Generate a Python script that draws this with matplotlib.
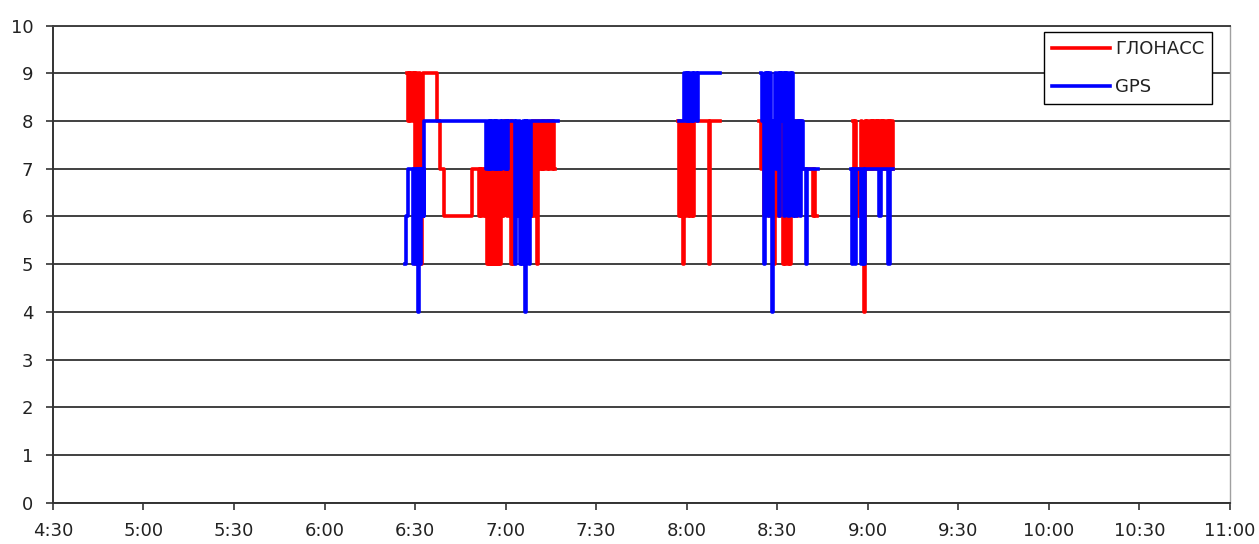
import numpy as np
import matplotlib
matplotlib.use("Agg")
import matplotlib.pyplot as plt

nan = np.nan

# time in minutes after midnight, value = number of satellites
glonass_t = [387.2, 387.6, 388.0, 388.4, 388.8, 389.2, 389.6, 389.9, 390.2, 390.5, 390.8, 391.1,
             391.4, 391.7, 392.0, 392.3, 392.7, 397.4, 398.2, 399.6, 408.9, 411.1, 411.5, 411.9,
             412.3, 412.7, 413.1, 413.5, 413.8, 414.1, 414.4, 414.7, 415.0, 415.3, 415.6, 415.9,
             416.2, 416.5, 416.8, 417.1, 417.4, 417.7, 418.0, 418.4, 418.8, 419.2, 419.4, 419.8,
             420.2, 420.6, 421.0, 421.5, 421.8, 422.1, 422.4, 422.8, 423.2, 423.8, 424.6, 425.4,
             426.2, 427.0, 427.8, 428.8, 429.2, 429.6, 430.0, 430.4, 430.8, 431.2, 431.6, 432.0,
             432.4, 432.8, 433.2, 433.6, 434.0, 434.4, 434.8, 435.2, 435.6, 436.0, 436.2, 436.2,
             477.1, 477.4, 477.7, 478.0, 478.3, 478.6, 478.9, 479.2, 479.5, 479.7, 480.4, 480.8,
             481.2, 481.6, 482.0, 482.4, 487.5, 487.7, 490.9, 490.9,
             503.9, 504.7, 505.2, 505.7, 506.2, 506.7, 507.2, 507.7, 508.2, 508.7, 509.0, 509.4,
             509.9, 510.4, 510.9, 511.4, 511.8, 512.2, 512.6, 513.0, 513.4, 513.8, 514.2, 514.6,
             515.0, 515.5, 516.0, 516.5, 517.0, 517.5, 518.0, 518.3, 521.7, 522.2, 522.6, 523.0,
             523.0,
             535.0, 535.4, 535.8, 536.2, 536.6, 537.0, 537.4, 537.8, 538.2, 538.7, 539.0, 539.4,
             539.8, 540.2, 540.6, 541.0, 541.4, 541.8, 542.2, 542.6, 543.0, 543.4, 543.8, 544.2,
             544.6, 545.0, 545.4, 545.8, 546.2, 546.6, 547.0, 547.4, 547.8, 548.2, 548.4]
glonass_v = [9, 8, 9, 8, 9, 8, 9, 5, 9, 6, 8, 5,
             9, 7, 5, 8, 9, 8, 7, 6, 7, 6, 7, 6,
             7, 6, 7, 6, 5, 7, 5, 6, 5, 7, 5, 6,
             5, 7, 5, 6, 5, 7, 5, 6, 7, 6, 8, 7,
             8, 6, 7, 8, 5, 8, 5, 7, 6, 7, 6, 7,
             6, 7, 6, 8, 6, 8, 7, 5, 8, 7, 8, 7,
             8, 7, 8, 7, 8, 7, 8, 7, 8, 7, 7, nan,
             8, 6, 8, 6, 7, 6, 5, 8, 6, 8, 6, 8,
             6, 8, 6, 8, 5, 8, 8, nan,
             8, 7, 8, 6, 8, 7, 6, 8, 7, 8, 5, 7,
             8, 6, 7, 8, 5, 6, 5, 7, 5, 6, 5, 7,
             8, 7, 8, 6, 8, 7, 8, 7, 6, 7, 6, 6,
             nan,
             8, 7, 8, 7, 6, 7, 6, 8, 7, 4, 8, 7,
             8, 7, 8, 7, 8, 7, 8, 7, 8, 7, 8, 7,
             8, 7, 8, 7, 8, 7, 8, 7, 8, 7, 7]

gps_t = [386.6, 387.0, 387.7, 389.4, 389.8, 390.2, 390.6, 390.9, 391.2, 391.6, 392.0, 392.3,
         392.6, 392.9, 393.1, 413.6, 414.0, 414.4, 414.8, 415.2, 415.6, 416.0, 416.4, 416.8,
         417.2, 417.6, 418.0, 418.4, 418.8, 419.9, 420.3, 420.6, 420.9, 423.1, 423.5, 423.9,
         424.3, 424.7, 425.1, 425.5, 425.9, 426.3, 426.7, 426.9, 427.2, 427.6, 428.0, 428.4,
         437.4, 437.4,
         477.6, 479.2, 479.6, 480.0, 480.4, 480.8, 481.2, 481.6, 482.0, 482.5, 483.5, 483.8,
         490.9, 490.9,
         504.7, 505.0, 505.5, 505.8, 506.2, 506.6, 507.0, 507.4, 507.8, 508.2, 508.6, 509.3,
         509.7, 510.1, 510.5, 510.9, 511.3, 511.7, 512.1, 512.5, 512.9, 513.3, 513.7, 514.1,
         514.5, 514.9, 515.2, 515.6, 516.0, 516.4, 516.8, 517.2, 517.6, 518.0, 518.5, 519.4,
         519.8, 523.5, 523.5,
         534.5, 534.8, 535.2, 535.6, 536.0, 537.9, 538.3, 538.7, 539.1, 543.8, 544.4, 546.8,
         547.2, 548.5]
gps_v = [5, 6, 7, 5, 7, 5, 7, 4, 7, 5, 7, 6,
         7, 6, 8, 7, 8, 7, 8, 7, 8, 7, 8, 7,
         8, 7, 8, 7, 8, 7, 8, 7, 8, 5, 8, 6,
         8, 5, 7, 5, 8, 4, 8, 7, 8, 5, 6, 8,
         8, nan,
         8, 9, 8, 9, 8, 9, 8, 9, 8, 9, 8, 9,
         9, nan,
         9, 8, 5, 9, 7, 9, 6, 9, 8, 4, 8, 9,
         7, 9, 6, 9, 8, 9, 6, 9, 7, 9, 6, 9,
         8, 9, 6, 8, 6, 8, 7, 8, 6, 8, 7, 5,
         7, 7, nan,
         7, 5, 7, 5, 7, 5, 7, 5, 7, 6, 7, 5,
         7, 7]

x_ticks = [270, 300, 330, 360, 390, 420, 450, 480, 510, 540, 570, 600, 630, 660]
x_labels = ["4:30", "5:00", "5:30", "6:00", "6:30", "7:00", "7:30", "8:00",
            "8:30", "9:00", "9:30", "10:00", "10:30", "11:00"]
y_ticks = [0, 1, 2, 3, 4, 5, 6, 7, 8, 9, 10]


def main():
    plt.rcParams["font.family"] = ["DejaVu Sans"]
    fig = plt.figure(figsize=(12.59, 5.44), dpi=100)
    ax = fig.add_axes([0.042, 0.076, 0.935, 0.877])

    ax.plot(glonass_t, glonass_v, drawstyle="steps-post", color="#ff0000", lw=2.6, label="ГЛОНАСС")
    ax.plot(gps_t, gps_v, drawstyle="steps-post", color="#0000ff", lw=2.6, label="GPS")

    ax.set_xlim(270, 660)
    ax.set_ylim(0, 10)
    ax.set_xticks(x_ticks)
    ax.set_xticklabels(x_labels)
    ax.set_yticks(y_ticks)

    ax.yaxis.grid(True, color="#404040", lw=1.4)
    ax.set_axisbelow(True)
    ax.tick_params(axis="both", direction="out", length=5, width=1.2, color="#333333",
                   labelsize=13, labelcolor="#222222")
    ax.tick_params(axis="x", pad=9)
    ax.tick_params(axis="y", pad=9)

    for side in ["left", "bottom"]:
        ax.spines[side].set_color("#333333")
        ax.spines[side].set_linewidth(1.4)
    ax.spines["top"].set_color("#404040")
    ax.spines["top"].set_linewidth(1.4)
    ax.spines["right"].set_color("#a0a0a0")
    ax.spines["right"].set_linewidth(1.0)

    leg = ax.legend(loc="upper right", bbox_to_anchor=(0.985, 0.986), borderaxespad=0,
                    fancybox=False, edgecolor="black", fontsize=13, handlelength=3.2,
                    handletextpad=0.3, labelspacing=1.1, borderpad=0.45, framealpha=1)
    leg.get_frame().set_linewidth(1.0)
    for text in leg.get_texts():
        text.set_color("#222222")

    fig.savefig("out.png", dpi=100)


if __name__ == "__main__":
    main()
